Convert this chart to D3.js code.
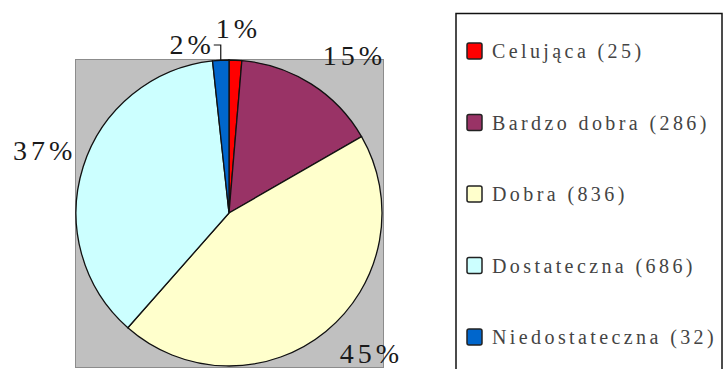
<!DOCTYPE html>
<html>
<head>
<meta charset="utf-8">
<script src="https://cdn.jsdelivr.net/npm/d3@7"></script>
<style>
  body { margin: 0; background: #fff; }
  svg { display: block; }
</style>
</head>
<body>
<svg id="canvas" width="723" height="369"></svg>
<script>
const categories = ["Celująca", "Bardzo dobra", "Dobra", "Dostateczna", "Niedostateczna"];
const counts = [25, 286, 836, 686, 32];
const colors = ["#ff0000", "#993366", "#ffffcc", "#ccffff", "#0066cc"];

const svg = d3.select("#canvas");
const cx = 229, cy = 213, radius = 153;
const total = d3.sum(counts);
const serif = "'Liberation Serif', 'Times New Roman', serif";

// grey plot area
svg.append("rect")
  .attr("x", 75.5).attr("y", 59.5)
  .attr("width", 308).attr("height", 308)
  .attr("fill", "#c0c0c0")
  .attr("stroke", "#8c8c8c")
  .attr("stroke-width", 1);

const pie = d3.pie().sort(null).value(d => d);
const arcs = pie(counts);
const arc = d3.arc().innerRadius(0).outerRadius(radius);

const g = svg.append("g").attr("transform", `translate(${cx},${cy})`);
g.selectAll("path")
  .data(arcs)
  .enter()
  .append("path")
  .attr("d", arc)
  .attr("fill", (d, i) => colors[i])
  .attr("stroke", "#111")
  .attr("stroke-width", 1.3);

// percent labels
const labelR = 175;
const spacing = 4;
const pct = v => Math.round((v / total) * 100) + "%";

arcs.forEach((d, i) => {
  const mid = (d.startAngle + d.endAngle) / 2;
  const s = Math.sin(mid), c = Math.cos(mid);
  const share = d.value / total;
  const text = g.append("text")
    .text(pct(d.value))
    .attr("font-family", serif)
    .attr("font-size", 28)
    .attr("letter-spacing", spacing)
    .attr("fill", "#1a1a1a");

  if (i === arcs.length - 1 && share < 0.03) {
    // small slice next to another small one: label pulled out with a leader
    const px = radius * s, py = -radius * c;
    const ey = -(radius + 15);
    g.append("path")
      .attr("d", `M${px},${py}V${ey}H${px - 7}`)
      .attr("fill", "none")
      .attr("stroke", "#111")
      .attr("stroke-width", 1.2);
    text.attr("x", px - 10 + spacing).attr("y", ey + 9).attr("text-anchor", "end");
    return;
  }

  const px = labelR * s, py = -labelR * c;
  const anchor = s > 0.3 ? "start" : s < -0.3 ? "end" : "middle";
  const dx = anchor === "end" ? spacing + 10 : anchor === "middle" ? spacing / 2 : 0;
  text.attr("x", px + dx)
    .attr("y", c >= 0 ? py : py + 15)
    .attr("text-anchor", anchor);
});

// legend
svg.append("rect")
  .attr("x", 456).attr("y", 13.5)
  .attr("width", 266).attr("height", 380)
  .attr("fill", "#fff")
  .attr("stroke", "#111")
  .attr("stroke-width", 1.5);

const rowY = d3.scalePoint().domain(categories).range([51, 337]);

const items = svg.selectAll("g.legend-item")
  .data(categories)
  .enter()
  .append("g")
  .attr("class", "legend-item")
  .attr("transform", d => `translate(467,${rowY(d)})`);

items.append("rect")
  .attr("x", 0).attr("y", -8)
  .attr("width", 15).attr("height", 16)
  .attr("rx", 2)
  .attr("fill", (d, i) => colors[i])
  .attr("stroke", "#222")
  .attr("stroke-width", 1.5);

items.append("text")
  .attr("x", 25).attr("y", 7)
  .attr("font-family", serif)
  .attr("font-size", 20)
  .attr("letter-spacing", 3.4)
  .attr("fill", "#444")
  .text((d, i) => `${d} (${counts[i]})`);
</script>
</body>
</html>
